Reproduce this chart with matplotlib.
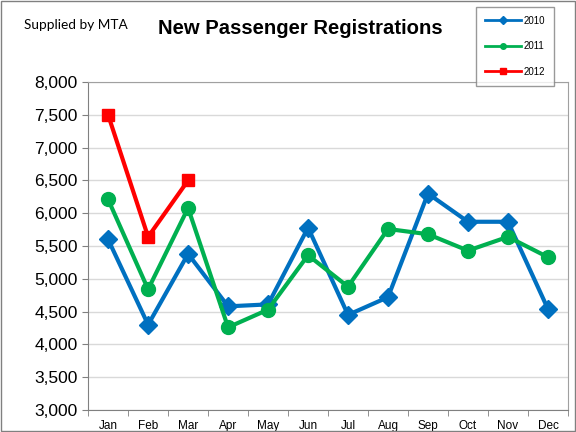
import matplotlib.pyplot as plt
from matplotlib.ticker import FuncFormatter, MultipleLocator
from matplotlib.patches import Rectangle

plt.rcParams['font.family'] = ['Liberation Sans', 'DejaVu Sans']

months = ['Jan', 'Feb', 'Mar', 'Apr', 'May', 'Jun',
          'Jul', 'Aug', 'Sep', 'Oct', 'Nov', 'Dec']
reg_2010 = [5600, 4300, 5380, 4580, 4610, 5780, 4450, 4720, 6300, 5870, 5870, 4540]
reg_2011 = [6210, 4840, 6080, 4260, 4530, 5360, 4880, 5760, 5680, 5430, 5640, 5330]
reg_2012 = [7500, 5640, 6500]

fig = plt.figure(figsize=(5.76, 4.32), dpi=100)
ax = fig.add_axes([0.153, 0.051, 0.833, 0.759])

x = list(range(len(months)))
ax.plot(x, reg_2010, color='#0070C0', lw=3, marker='D', ms=9, label='2010')
ax.plot(x, reg_2011, color='#00B050', lw=3, marker='o', ms=10, label='2011')
ax.plot(x[:len(reg_2012)], reg_2012, color='#FF0000', lw=3, marker='s', ms=9, label='2012')

ax.set_xlim(-0.5, 11.5)
ax.set_ylim(3000, 8000)
ax.yaxis.set_major_locator(MultipleLocator(500))
ax.yaxis.set_major_formatter(FuncFormatter(lambda v, p: f'{int(v):,}'))
ax.grid(axis='y', color='#D9D9D9', lw=1)
ax.set_axisbelow(True)

ax.set_xticks(x)
ax.set_xticklabels(months, fontsize=8.5)
ax.set_xticks([i + 0.5 for i in range(-1, 12)], minor=True)
ax.tick_params(axis='x', which='major', length=0, pad=7)
ax.tick_params(axis='x', which='minor', length=4, color='#808080')
ax.tick_params(axis='y', labelsize=12.5, length=4, color='#808080')

for s in ['left', 'bottom']:
    ax.spines[s].set_color('#808080')
for s in ['top', 'right']:
    ax.spines[s].set_color('#A0A0A0')

fig.text(0.042, 0.942, 'Supplied by MTA', fontsize=9.8, va='center',
         family=['Lato', 'DejaVu Sans'])
fig.text(0.522, 0.935, 'New Passenger Registrations', fontsize=14.6,
         fontweight='bold', ha='center', va='center')

# legend with thin lines and small markers
h1 = plt.Line2D([], [], color='#0070C0', lw=2, marker='D', ms=4)
h2 = plt.Line2D([], [], color='#00B050', lw=2, marker='o', ms=4)
h3 = plt.Line2D([], [], color='#FF0000', lw=2, marker='s', ms=4)
fig.legend([h1, h2, h3], ['2010', '2011', '2012'], loc='upper left',
           bbox_to_anchor=(0.818, 0.995), fontsize=7, frameon=True,
           fancybox=False, edgecolor='#808080', labelspacing=1.6,
           handlelength=3.7, borderpad=0.9, handletextpad=0.3)

# outer border of the picture
fig.patches.append(Rectangle((0.002, 0.002), 0.996, 0.996, transform=fig.transFigure,
                             fill=False, edgecolor='#808080', lw=1))

fig.savefig('out.png', dpi=100)
